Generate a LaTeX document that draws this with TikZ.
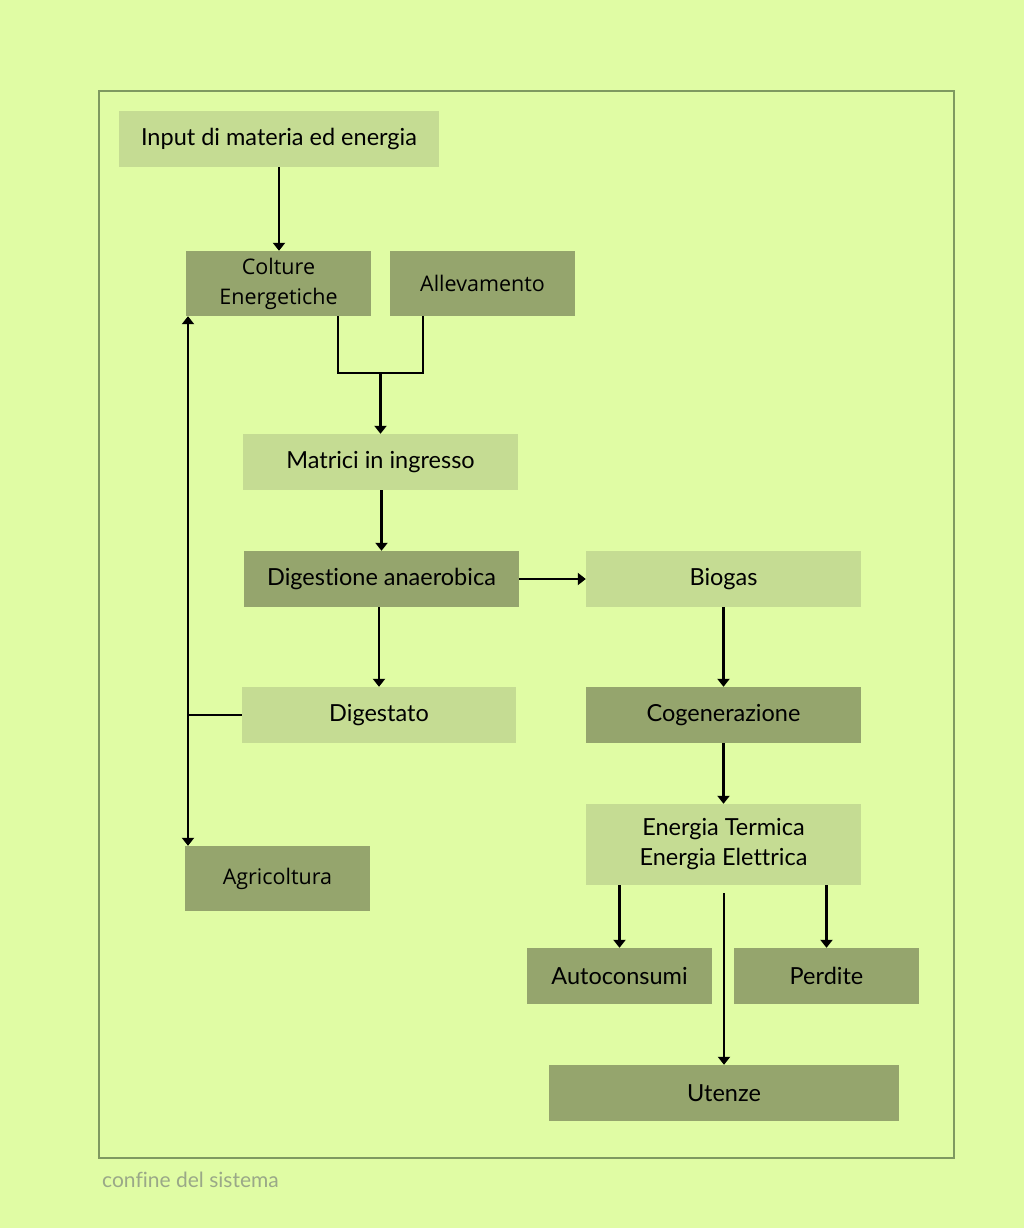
\documentclass[tikz,border=0pt]{standalone}
\usepackage{fontspec}
\setmainfont{Lato}[Ligatures={NoCommon}]
\newfontfamily\osans{Open Sans}
\usetikzlibrary{arrows.meta}
\definecolor{bgc}{HTML}{E0FCA4}
\definecolor{lightbox}{HTML}{C5DC93}
\definecolor{darkbox}{HTML}{95A56D}
\definecolor{framec}{HTML}{7F9960}
\definecolor{capc}{HTML}{9AA888}
\tikzset{
  lbox/.style={fill=lightbox, draw=none, minimum width=275pt, minimum height=56pt, inner sep=0pt, align=center, font=\fontsize{23.5}{30}\selectfont},
  dbox/.style={fill=darkbox, draw=none, minimum width=185pt, minimum height=65pt, inner sep=0pt, align=center, font=\fontsize{23.5}{30}\selectfont},
  osbox/.style={font=\osans\fontsize{21.5}{30}\selectfont},
  flow/.style={line width=2.4pt, -{Triangle[width=12pt,length=8pt]}},
  plain/.style={line width=2.4pt},
}
\begin{document}
\begin{tikzpicture}[x=1pt,y=-1pt]
\useasboundingbox[fill=bgc] (0,0) rectangle (1024,1228);
\draw[framec, line width=2pt] (99,91) rectangle (954,1158);

\node[lbox, minimum width=320pt] (input) at (279,139) {Input di materia ed energia};
\node[dbox, osbox] (colture) at (278.5,283.5) {Colture\\Energetiche};
\node[dbox, osbox] (allev) at (482.5,283.5) {Allevamento};
\node[lbox] (matrici) at (380.5,462) {Matrici in ingresso};
\node[dbox, minimum width=275pt, minimum height=56pt] (digest) at (381.5,579) {Digestione anaerobica};
\node[lbox] (biogas) at (723.5,579) {Biogas};
\node[lbox, minimum width=274pt] (digestato) at (379,715) {Digestato};
\node[dbox, minimum width=275pt, minimum height=56pt] (cogen) at (723.5,715) {Cogenerazione};
\node[lbox, minimum height=81pt] (energia) at (723.5,844.5) {Energia Termica\\Energia Elettrica};
\node[dbox, osbox] (agri) at (277.5,878.5) {Agricoltura};
\node[dbox, minimum height=56pt] (auto) at (619.5,976) {Autoconsumi};
\node[dbox, minimum height=56pt] (perdite) at (826.5,976) {Perdite};
\node[dbox, minimum width=350pt, minimum height=56pt] (utenze) at (724,1093) {Utenze};

\node[anchor=west, text=capc, font=\fontsize{21}{24}\selectfont, inner sep=0pt] (confine) at (102,1180) {confine del sistema};

\coordinate (lx) at (188,0);
\coordinate (join) at (380.5,373);
\coordinate (ustart) at (724,893);

\draw[flow] (input.south) -- (input.south |- colture.north);
\draw[plain] ([xshift=59.5pt]colture.south) |- (join) -| ([xshift=-59.5pt]allev.south);
\draw[flow] (join) -- (matrici.north);
\draw[flow] (matrici.south -| digest.north) -- (digest.north);
\draw[flow] (digest.east) -- (biogas.west);
\draw[flow] (digest.south -| digestato.north) -- (digestato.north);
\draw[flow] (biogas.south) -- (cogen.north);
\draw[flow] (cogen.south) -- (energia.north);
\draw[flow] (energia.south -| auto.north) -- (auto.north);
\draw[flow] (energia.south -| perdite.north) -- (perdite.north);
\draw[flow] (ustart) -- (utenze.north);
\draw[line width=2.4pt, {Triangle[width=12pt,length=8pt]}-{Triangle[width=12pt,length=8pt]}] (colture.south -| lx) -- (agri.north -| lx);
\draw[line width=1.2pt] (digestato.west) -- (digestato.west -| lx);
\end{tikzpicture}
\end{document}
